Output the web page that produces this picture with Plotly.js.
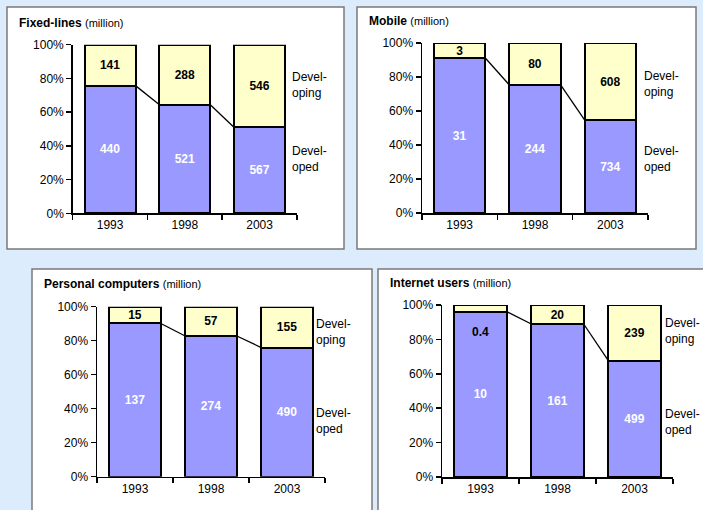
<!DOCTYPE html>
<html>
<head>
<meta charset="utf-8">
<script src="https://cdn.plot.ly/plotly-3.0.1.min.js"></script>
<style>html,body{margin:0;padding:0;background:#dcecfc;}#chart{width:703px;height:510px;}</style>
</head>
<body>
<div id="chart"></div>
<script>
// ---- data ----
const years = ['1993', '1998', '2003'];
const fixedDeveloped = [440, 521, 567];
const fixedDeveloping = [141, 288, 546];
const mobileDeveloped = [31, 244, 734];
const mobileDeveloping = [3, 80, 608];
const pcDeveloped = [137, 274, 490];
const pcDeveloping = [15, 57, 155];
const internetDeveloped = [10, 161, 499];
const internetDeveloping = [0.4, 20, 239];
const titles = ['Fixed-lines', 'Mobile', 'Personal computers', 'Internet users'];
const unitLabel = '(million)';
const developingLabel = 'Devel-<br>oping';
const developedLabel = 'Devel-<br>oped';
const yTickVals = [0, 20, 40, 60, 80, 100];
const yTickLabels = ['0%', '20%', '40%', '60%', '80%', '100%'];

// ---- layout config ----
const W = 703, H = 510;
const FONT = 'Arial, "Liberation Sans", sans-serif';
const bargap = 0.32;
const panels = [
  {dev: fixedDeveloped, ding: fixedDeveloping, px: [72.7, 297], py: [44.7, 213.3], box: [7, 7, 344, 249], title: [17, 23], lblX: 0.969, lblY: [76, 32]},
  {dev: mobileDeveloped, ding: mobileDeveloping, px: [422, 648], py: [43, 213], box: [357, 7, 696, 249], title: [367, 21], lblX: 0.973, lblY: [76, 32]},
  {dev: pcDeveloped, ding: pcDeveloping, px: [97, 325], py: [306.7, 476.7], box: [32, 269, 372, 520], title: [42, 284], lblX: 0.952, lblY: [85, 32.5]},
  {dev: internetDeveloped, ding: internetDeveloping, px: [442, 673], py: [305, 477], box: [378, 269, 715, 520], title: [388, 283], lblX: 0.957, lblY: [84.6, 32], smallFirst: true}
];

const data = [];
const layout = {
  width: W, height: H,
  margin: {l: 0, r: 0, t: 0, b: 0, pad: 0},
  paper_bgcolor: '#dcecfc',
  plot_bgcolor: 'rgba(0,0,0,0)',
  barmode: 'stack',
  barnorm: 'percent',
  bargap: bargap,
  showlegend: false,
  hovermode: false,
  font: {family: FONT, size: 12, color: '#000'},
  shapes: [],
  annotations: []
};

const hw = (1 - bargap) / 2;
panels.forEach((p, k) => {
  const s = k === 0 ? '' : String(k + 1);
  const xa = 'x' + s, ya = 'y' + s;
  const pct = p.dev.map((v, i) => v / (v + p.ding[i]) * 100);

  // panel box
  layout.shapes.push({type: 'rect', xref: 'paper', yref: 'paper', layer: 'below',
    x0: p.box[0] / W, x1: p.box[2] / W, y0: 1 - p.box[3] / H, y1: 1 - p.box[1] / H,
    fillcolor: '#ffffff', line: {color: '#7a7a7a', width: 1.5}});

  data.push({type: 'bar', x: years, y: p.dev, xaxis: xa, yaxis: ya,
    marker: {color: '#9999ff', line: {color: '#000', width: 2}},
    text: p.dev.map(String), textposition: 'inside', insidetextanchor: 'middle',
    constraintext: 'none', textangle: 0,
    textfont: {family: FONT, size: 12, color: '#ffffff', weight: 700}});

  const dingText = p.ding.map(String);
  if (p.smallFirst) dingText[0] = '';
  data.push({type: 'bar', x: years, y: p.ding, xaxis: xa, yaxis: ya,
    marker: {color: '#ffffcc', line: {color: '#000', width: 2}},
    text: dingText, textposition: 'inside', insidetextanchor: 'middle',
    constraintext: 'none', textangle: 0,
    textfont: {family: FONT, size: 12, color: '#000000', weight: 700}});

  if (p.smallFirst) {
    layout.annotations.push({xref: xa, yref: ya, x: 0, y: pct[0], yshift: -20,
      text: String(p.ding[0]), showarrow: false,
      font: {family: FONT, size: 12, color: '#000', weight: 700}});
  }

  layout['xaxis' + s] = {
    domain: [p.px[0] / W, p.px[1] / W], anchor: ya, type: 'category',
    tickson: 'boundaries', ticks: 'outside', ticklen: 5, tickwidth: 1.5, tickcolor: '#000',
    showline: true, linecolor: '#000', linewidth: 1.5, showgrid: false, zeroline: false,
    tickfont: {family: FONT, size: 12, color: '#000'}, fixedrange: true
  };
  layout['yaxis' + s] = {
    domain: [1 - p.py[1] / H, 1 - p.py[0] / H], anchor: xa, range: [0, 100],
    tickmode: 'array', tickvals: yTickVals, ticktext: yTickLabels,
    ticks: 'outside', ticklen: 5, tickwidth: 1.5, tickcolor: '#000',
    showline: true, linecolor: '#000', linewidth: 1.5, showgrid: false, zeroline: false,
    tickfont: {family: FONT, size: 12, color: '#000'}, fixedrange: true
  };

  // connector lines between developed tops
  for (let i = 0; i < years.length - 1; i++) {
    layout.shapes.push({type: 'line', xref: xa, yref: ya, layer: 'above',
      x0: i + hw, y0: pct[i], x1: i + 1 - hw, y1: pct[i + 1],
      line: {color: '#000', width: 1.3}});
  }

  // title
  layout.annotations.push({xref: 'paper', yref: 'paper', x: p.title[0] / W, y: 1 - p.title[1] / H,
    xanchor: 'left', yanchor: 'middle', showarrow: false,
    text: '<b>' + titles[k] + '</b> <span style="font-size:11px">' + unitLabel + '</span>',
    font: {family: FONT, size: 12, color: '#000'}});

  // series labels
  layout.annotations.push({xref: xa + ' domain', yref: ya, x: p.lblX, y: p.lblY[0],
    xanchor: 'left', yanchor: 'middle', align: 'left', showarrow: false,
    text: developingLabel, font: {family: FONT, size: 12, color: '#000'}});
  layout.annotations.push({xref: xa + ' domain', yref: ya, x: p.lblX, y: p.lblY[1],
    xanchor: 'left', yanchor: 'middle', align: 'left', showarrow: false,
    text: developedLabel, font: {family: FONT, size: 12, color: '#000'}});
});

Plotly.newPlot('chart', data, layout, {staticPlot: true, displayModeBar: false});
</script>
</body>
</html>
